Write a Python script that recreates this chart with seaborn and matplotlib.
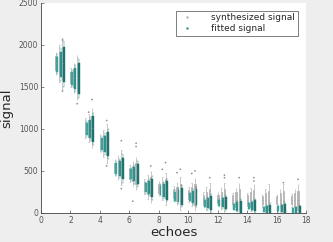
import numpy as np
import pandas as pd
import seaborn as sns
import matplotlib
matplotlib.use("Agg")
import matplotlib.pyplot as plt
from matplotlib.lines import Line2D

echoes = list(range(1, 18))

# medians
med_syn = [1780, 1610, 1010, 830, 540, 470, 310, 290, 230, 220, 170, 170, 160, 160, 150, 150, 150]
med_fit = [1770, 1600, 1000, 820, 530, 460, 300, 270, 200, 190, 115, 120, 75, 85, 45, 55, 30]

# half spread of the grey (synthesized) whiskers, one list per noise group
syn_half = [
    [140, 110, 120, 110, 100, 100, 90, 90, 90, 90, 80, 80, 80, 80, 80, 80, 80],
    [220, 180, 170, 160, 150, 150, 140, 140, 140, 140, 140, 140, 140, 140, 140, 140, 140],
    [300, 270, 240, 230, 210, 200, 190, 190, 200, 200, 190, 190, 200, 190, 190, 190, 190],
]
# half height of the teal (fitted) boxes
fit_half = [
    [90, 80, 75, 70, 65, 60, 55, 55, 55, 50, 45, 40, 35, 35, 30, 30, 25],
    [150, 120, 110, 100, 90, 85, 80, 80, 75, 70, 60, 55, 50, 45, 40, 40, 35],
    [210, 180, 150, 140, 130, 120, 110, 110, 100, 95, 85, 75, 70, 65, 55, 55, 50],
]

# stray points above / below the whiskers: (echo, group, value)
outliers = [(1, 2, 2060), (1, 2, 1450), (2, 2, 1300), (3, 2, 1350), (3, 1, 1200),
            (4, 2, 1100), (4, 2, 560), (5, 2, 860), (5, 2, 290), (6, 2, 830),
            (6, 2, 790), (6, 1, 140), (7, 2, 560), (8, 2, 600), (8, 1, 520),
            (9, 2, 520), (9, 1, 480), (10, 2, 500), (10, 1, 470), (11, 2, 420),
            (12, 2, 450), (12, 2, 420), (13, 2, 420), (14, 2, 420), (14, 2, 380),
            (16, 2, 360), (17, 2, 400)]

GREY = "#b4b4b4"
TEALS = ["#3aa39b", "#2a928b", "#1c746f"]

rows = []
for i, e in enumerate(echoes):
    for g in range(3):
        m, h = med_syn[i], syn_half[g][i]
        for v in [m - h, m - 0.6 * h, m, m + 0.6 * h, m + h]:
            rows.append(("synthesized", g, e + 0.02 + g * 0.22, max(v, 0)))
        m, h = med_fit[i], fit_half[g][i]
        for v in [m - 1.3 * h, m - h, m, m + h, m + 1.3 * h]:
            rows.append(("fitted", g, e + 0.12 + g * 0.22, max(v, 0)))
df = pd.DataFrame(rows, columns=["signal", "group", "pos", "value"])

sns.set_style("white")
fig = plt.figure(figsize=(3.33, 2.42), dpi=100, facecolor="#eeeeee")
ax = fig.add_axes([0.123, 0.12, 0.796, 0.868])

# one call per group so the native spacing is one echo
for g in range(3):
    sub = df[(df["signal"] == "synthesized") & (df["group"] == g)]
    sns.boxplot(data=sub, x="pos", y="value", native_scale=True, orient="x",
                width=0.08, color=GREY, linecolor="#a0a0a0", linewidth=0.4,
                whis=(0, 100), fliersize=0, saturation=1, ax=ax)
    sub = df[(df["signal"] == "fitted") & (df["group"] == g)]
    sns.boxplot(data=sub, x="pos", y="value", native_scale=True, orient="x",
                width=0.13, color=TEALS[g], linecolor=TEALS[g], linewidth=0.3,
                whis=(0, 100), fliersize=0, saturation=1, ax=ax)

out = pd.DataFrame(outliers, columns=["echo", "group", "value"])
out["pos"] = out["echo"] + 0.02 + out["group"] * 0.22
sns.scatterplot(data=out, x="pos", y="value", s=1.5, color="#8c8c8c",
                edgecolor="none", ax=ax, legend=False)

ax.set_xlim(0, 18)
ax.set_ylim(0, 2500)
ax.set_xticks(range(0, 19, 2))
ax.set_xticklabels([str(t) for t in range(0, 19, 2)])
ax.set_yticks(range(0, 2501, 500))
ax.set_xlabel("echoes", fontsize=9.5, labelpad=1)
ax.set_ylabel("signal", fontsize=9.5, labelpad=4)
ax.tick_params(labelsize=5.5, colors="#555555", direction="in", length=2,
               width=0.5, pad=2, bottom=True, left=True)
for s in ["top", "right"]:
    ax.spines[s].set_visible(False)
for s in ["left", "bottom"]:
    ax.spines[s].set_color("#444444")
    ax.spines[s].set_linewidth(0.6)

handles = [Line2D([], [], marker=".", ls="none", ms=1.5, color=GREY),
           Line2D([], [], marker=".", ls="none", ms=1.5, color=TEALS[1])]
leg = ax.legend(handles, ["synthesized signal", "fitted signal"], loc="upper right",
                fontsize=6.5, frameon=True, fancybox=False, borderpad=0.3,
                handletextpad=1.6, labelspacing=0.2, bbox_to_anchor=(0.985, 0.985))
leg.get_frame().set_edgecolor("#444444")
leg.get_frame().set_linewidth(0.6)

fig.savefig("out.png", dpi=100, facecolor=fig.get_facecolor())
